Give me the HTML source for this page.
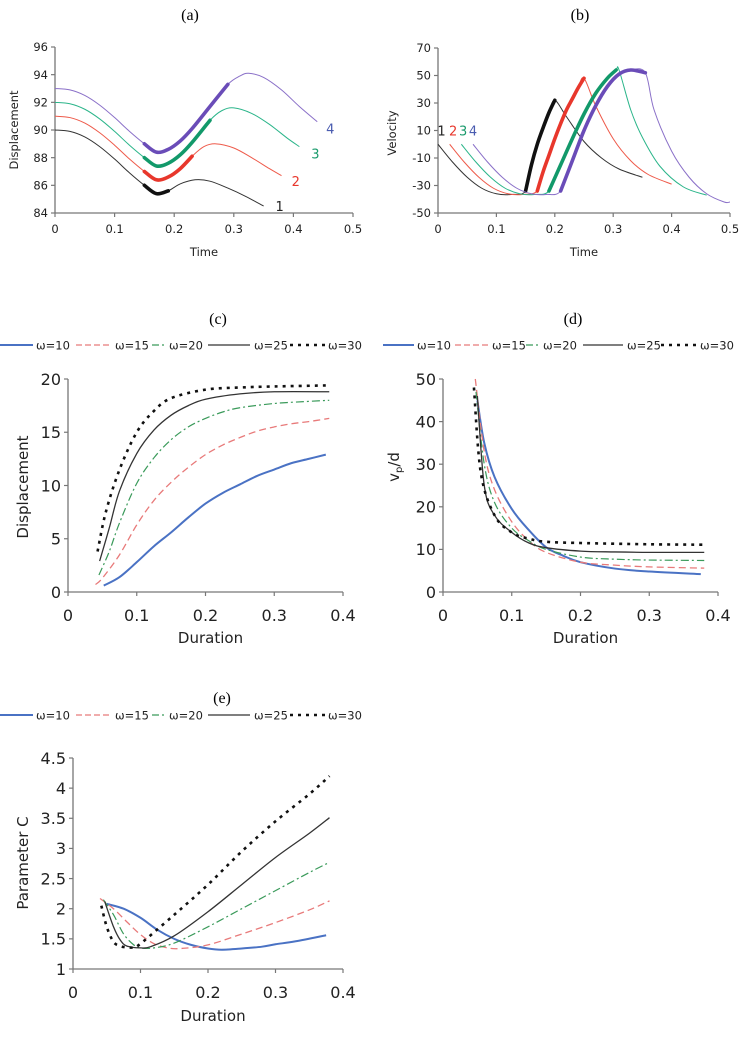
<!DOCTYPE html>
<html><head><meta charset="utf-8">
<style>
html,body{margin:0;padding:0;background:#fff;}
svg{display:block;font-family:"DejaVu Sans","Liberation Sans",sans-serif;}
.ttl{font-family:"Liberation Serif",serif;font-size:16px;}
</style></head>
<body>
<svg id="fig" width="749" height="1037" viewBox="0 0 749 1037" xmlns="http://www.w3.org/2000/svg">
<text class="ttl" x="190" y="20" text-anchor="middle">(a)</text>
<text class="ttl" x="580" y="20" text-anchor="middle">(b)</text>
<text class="ttl" x="218" y="324" text-anchor="middle">(c)</text>
<text class="ttl" x="573" y="324" text-anchor="middle">(d)</text>
<text class="ttl" x="222" y="703" text-anchor="middle">(e)</text>
</svg>
<script>
// ---- Panel (a) data ----
const aT1=[0,.025,.05,.075,.1,.125,.15,.17,.19,.21,.235,.26,.29,.32,.35];
const aY1=[90,89.9,89.5,88.8,87.9,86.9,86.0,85.4,85.6,86.1,86.4,86.3,85.8,85.2,84.5];
const aT2=[0,.025,.05,.075,.1,.125,.15,.17,.19,.21,.23,.25,.27,.3,.33,.36,.38];
const aY2=[91,90.9,90.5,89.8,88.9,87.9,87.0,86.4,86.6,87.2,88.1,88.8,89.0,88.7,88.0,87.2,86.7];
const aT3=[0,.025,.05,.075,.1,.125,.15,.17,.19,.21,.23,.26,.28,.3,.33,.36,.39,.41];
const aY3=[92,91.9,91.5,90.8,89.9,88.9,88.0,87.4,87.6,88.2,89.1,90.7,91.4,91.6,91.2,90.4,89.4,88.8];
const aT4=[0,.025,.05,.075,.1,.125,.15,.17,.19,.21,.23,.26,.29,.31,.325,.35,.38,.41,.44];
const aY4=[93,92.9,92.5,91.8,90.9,89.9,89.0,88.4,88.6,89.2,90.1,91.7,93.3,93.9,94.1,93.8,92.9,91.7,90.6];
const aThick=[[.15,.2],[.15,.23],[.15,.26],[.15,.29]];
const aXTicks=[0,0.1,0.2,0.3,0.4,0.5];
const aYTicks=[84,86,88,90,92,94,96];
const aLabels=["1","2","3","4"];
const aLabelT=[0.37,0.397,0.43,0.455];
const aLabelY=[84.5,86.3,88.3,90.1];
// ---- Panel (b) data ----
const bT1=[0,.025,.05,.075,.1,.125,.15,.16,.17,.18,.19,.2,.22,.25,.28,.31,.35];
const bV1=[0,-13,-24,-32,-36,-36.5,-34,-15,0,12,23,32,20,2,-10,-18,-24];
const bT2=[.02,.045,.07,.095,.12,.145,.17,.18,.19,.2,.21,.22,.23,.24,.25,.27,.3,.33,.36,.4];
const bV2=[0,-13,-24,-32,-36,-36.5,-34,-20,-8,4,15,25,33,41,48,28,4,-12,-22,-29];
const bT3=[.04,.065,.09,.115,.14,.165,.19,.21,.23,.25,.27,.29,.305,.31,.33,.35,.38,.42,.46];
const bV3=[0,-13,-24,-32,-36,-36.5,-34,-15,4,22,37,48,54,54,25,5,-16,-31,-37];
const bT4=[.06,.085,.11,.135,.16,.185,.21,.23,.25,.27,.29,.31,.33,.355,.37,.4,.43,.46,.49,.5];
const bV4=[0,-13,-24,-32,-36,-36.5,-34,-12,10,28,42,51,54,52,25,-5,-24,-36,-42,-42];
const bThick=[[.15,.2],[.17,.25],[.19,.305],[.21,.355]];
const bXTicks=[0,0.1,0.2,0.3,0.4,0.5];
const bYTicks=[-50,-30,-10,10,30,50,70];
const bLabelT=[0.006,0.026,0.043,0.06];
// ---- Panel (c) data ----
const cX10=[.052,.075,.1,.125,.15,.175,.2,.225,.25,.275,.3,.325,.35,.375];
const cY10=[0.6,1.4,2.8,4.3,5.6,7,8.3,9.3,10.1,10.9,11.5,12.1,12.5,12.9];
const cX15=[.04,.05,.075,.1,.125,.15,.175,.2,.225,.25,.275,.3,.325,.35,.38];
const cY15=[0.7,1.3,3.5,6.3,8.6,10.3,11.7,12.9,13.8,14.5,15.1,15.5,15.8,16.0,16.3];
const cX20=[.045,.06,.075,.1,.125,.15,.175,.2,.225,.25,.3,.35,.38];
const cY20=[1.6,3.8,6.5,10.2,12.6,14.3,15.5,16.3,16.9,17.3,17.7,17.9,18.0];
const cX25=[.046,.06,.075,.1,.125,.15,.175,.2,.25,.3,.38];
const cY25=[2.9,6,9.5,13.0,15.2,16.6,17.5,18.1,18.6,18.8,18.8];
const cX30=[.043,.055,.075,.1,.125,.15,.2,.25,.3,.38];
const cY30=[3.8,7.5,11.5,15.0,17.0,18.2,19.0,19.2,19.3,19.4];
const cYTicks=[0,5,10,15,20];
const durTicks=[0,0.1,0.2,0.3,0.4];
// ---- Panel (d) data ----
const dX10=[.05,.06,.075,.1,.125,.15,.175,.2,.25,.3,.375];
const dY10=[45,35,27,19.5,14.5,10.5,8.5,7,5.5,4.8,4.2];
const dX15=[.047,.06,.075,.1,.125,.15,.2,.25,.3,.38];
const dY15=[50,33,24,16.5,12,9.3,7,6.3,5.9,5.6];
const dX20=[.048,.06,.075,.1,.125,.15,.2,.25,.3,.38];
const dY20=[47,30,21,15,12,10,8.2,7.7,7.5,7.4];
const dX25=[.05,.06,.075,.1,.125,.15,.2,.25,.3,.38];
const dY25=[46,25,18,14,11.5,10.4,9.6,9.4,9.3,9.3];
const dX30=[.045,.055,.075,.1,.125,.15,.2,.3,.38];
const dY30=[48,28,18,14,12.5,11.8,11.5,11.2,11.1];
const dYTicks=[0,10,20,30,40,50];
// ---- Panel (e) data ----
const eX10=[.05,.075,.1,.125,.15,.175,.2,.22,.25,.28,.3,.33,.375];
const eY10=[2.08,2.0,1.85,1.65,1.5,1.4,1.34,1.32,1.34,1.37,1.41,1.46,1.56];
const eX15=[.04,.06,.08,.1,.12,.14,.16,.2,.25,.3,.35,.38];
const eY15=[2.17,2.0,1.78,1.57,1.42,1.35,1.34,1.4,1.58,1.77,1.98,2.13];
const eX20=[.045,.06,.075,.09,.1,.12,.15,.2,.25,.3,.35,.38];
const eY20=[2.15,1.9,1.58,1.4,1.35,1.35,1.43,1.7,2.0,2.3,2.6,2.77];
const eX25=[.047,.06,.07,.08,.1,.115,.15,.2,.25,.3,.35,.38];
const eY25=[2.12,1.7,1.48,1.38,1.35,1.37,1.55,1.95,2.4,2.85,3.25,3.51];
const eX30=[.042,.05,.06,.07,.08,.09,.1,.15,.2,.25,.3,.35,.38];
const eY30=[2.05,1.7,1.45,1.38,1.36,1.36,1.42,1.9,2.4,2.95,3.45,3.9,4.2];
const eYTicks=[1,1.5,2,2.5,3,3.5,4,4.5];
const omegaNames=["ω=10","ω=15","ω=20","ω=25","ω=30"];

const NS="http://www.w3.org/2000/svg";
const fig=document.getElementById('fig');
function mk(tag,attrs,parent){const e=document.createElementNS(NS,tag);for(const k in attrs)e.setAttribute(k,attrs[k]);(parent||fig).appendChild(e);return e;}
function scale(d0,d1,r0,r1){return v=>r0+(v-d0)/(d1-d0)*(r1-r0);}
function smoothPath(pts){
  if(pts.length<2)return "";
  let d="M"+pts[0][0].toFixed(2)+","+pts[0][1].toFixed(2);
  for(let i=0;i<pts.length-1;i++){
    const p0=pts[i-1]||pts[i],p1=pts[i],p2=pts[i+1],p3=pts[i+2]||p2;
    const c1=[p1[0]+(p2[0]-p0[0])/6,p1[1]+(p2[1]-p0[1])/6];
    const c2=[p2[0]-(p3[0]-p1[0])/6,p2[1]-(p3[1]-p1[1])/6];
    d+="C"+c1[0].toFixed(2)+","+c1[1].toFixed(2)+" "+c2[0].toFixed(2)+","+c2[1].toFixed(2)+" "+p2[0].toFixed(2)+","+p2[1].toFixed(2);
  }
  return d;
}
function axes(g,sx,sy,xt,yt,x0,y0,xl,yl,fs,xfmt,yfmt,labOff){
  const xa=mk('line',{x1:sx(xt[0]),x2:sx(xt[xt.length-1]),y1:y0,y2:y0,stroke:'#777','stroke-width':1.3},g);
  
  
  const ya=mk('line',{x1:x0,x2:x0,y1:sy(yt[0]),y2:sy(yt[yt.length-1]),stroke:'#777','stroke-width':1.3},g);
  
  
  xt.forEach(v=>{
    mk('line',{x1:sx(v),x2:sx(v),y1:y0,y2:y0+4,stroke:'#777','stroke-width':1.2},g);
    const t=mk('text',{x:sx(v),y:y0+labOff,'font-size':fs,'text-anchor':'middle',fill:'#222'},g);
    t.textContent=xfmt(v);
    
    
  });
  yt.forEach(v=>{
    mk('line',{x1:x0-4,x2:x0,y1:sy(v),y2:sy(v),stroke:'#777','stroke-width':1.2},g);
    const t=mk('text',{x:x0-7,y:sy(v)+fs*0.36,'font-size':fs,'text-anchor':'end',fill:'#222'},g);
    t.textContent=yfmt(v);
    
    
  });
}
function series(g,sx,sy,xs,ys,style,name){
  const pts=xs.map((x,i)=>[sx(x),sy(ys[i])]);
  const p=mk('path',Object.assign({d:smoothPath(pts),fill:'none'},style),g);
  
  
  return p;
}
function subRange(xs,ys,a,b){
  const ox=[],oy=[];
  xs.forEach((x,i)=>{if(x>=a-1e-9&&x<=b+1e-9){ox.push(x);oy.push(ys[i]);}});
  return [ox,oy];
}
function legend(g,x0,y,offs){
  const styles=[
    {stroke:'#4a72c4','stroke-width':2},
    {stroke:'#e87a7a','stroke-width':1.3,'stroke-dasharray':'6,3'},
    {stroke:'#3a9a5a','stroke-width':1.3,'stroke-dasharray':'7,3,2,3'},
    {stroke:'#333','stroke-width':1.3},
    {stroke:'#111','stroke-width':2.6,'stroke-dasharray':'3,5'}
  ];
  omegaNames.forEach((n,i)=>{
    const o=offs[i];
    const ln=mk('line',Object.assign({x1:x0+o[0],x2:x0+o[1],y1:y,y2:y},styles[i]),g);
    
    
    const t=mk('text',{x:x0+o[2],y:y+4.5,'font-size':11.5,fill:'#222'},g);
    t.textContent=n;
    
    
  });
}
const wStyles=[
  {stroke:'#4a72c4','stroke-width':2},
  {stroke:'#e87a7a','stroke-width':1.3,'stroke-dasharray':'7,4'},
  {stroke:'#3a9a5a','stroke-width':1.2,'stroke-dasharray':'8,3,2,3'},
  {stroke:'#333','stroke-width':1.3},
  {stroke:'#111','stroke-width':2.6,'stroke-dasharray':'3,5'}
];
function ytitle(g,x,y,txt,fs,name){
  const t=mk('text',{x:x,y:y,'font-size':fs,'text-anchor':'middle',transform:`rotate(-90 ${x} ${y})`,fill:'#222'},g);
  t.textContent=txt;
  
  
  return t;
}
function xtitle(g,x,y,txt,fs){
  const t=mk('text',{x:x,y:y,'font-size':fs,'text-anchor':'middle',fill:'#222'},g);
  t.textContent=txt;
  
  
}

// ---------- Panel (a) ----------
(function(){
  const g=mk('g',{});
  
  
  const sx=scale(0,0.5,55,353), sy=scale(84,96,213,47);
  axes(g,sx,sy,aXTicks,aYTicks,55,213,0,0,11.5,v=>String(v),v=>String(v),20);
  ytitle(g,18,130,'Displacement',11.5,'y-axis-title');
  xtitle(g,204,256,'Time',11.5);
  const T=[aT1,aT2,aT3,aT4],Y=[aY1,aY2,aY3,aY4];
  const thin=['#333','#ee5a4a','#2bb58a','#8a70c8'],thick=['#111','#e8372c','#12996a','#6a4cb8'];
  const labCol=['#222','#e8372c','#1a9a6c','#4a5cb0'];
  for(let i=0;i<4;i++){
    series(g,sx,sy,T[i],Y[i],{stroke:thin[i],'stroke-width':1},'curve-'+(i+1));
    const r=subRange(T[i],Y[i],aThick[i][0],aThick[i][1]);
    series(g,sx,sy,r[0],r[1],{stroke:thick[i],'stroke-width':3.6,'stroke-linecap':'round'},'curve-'+(i+1)+'-thick');
    const t=mk('text',{x:sx(aLabelT[i]),y:sy(aLabelY[i])+5,'font-size':13,fill:labCol[i]},g);
    t.textContent=aLabels[i];
    
    
  }
})();
// ---------- Panel (b) ----------
(function(){
  const g=mk('g',{});
  
  
  const sx=scale(0,0.5,438,730), sy=scale(-50,70,213,48);
  axes(g,sx,sy,bXTicks,bYTicks,438,213,0,0,11.5,v=>String(v),v=>String(v),20);
  ytitle(g,396,133,'Velocity',11.5,'y-axis-title');
  xtitle(g,584,256,'Time',11.5);
  const T=[bT1,bT2,bT3,bT4],V=[bV1,bV2,bV3,bV4];
  const thin=['#333','#ee5a4a','#2bb58a','#8a70c8'],thick=['#111','#e8372c','#12996a','#6a4cb8'];
  const labCol=['#222','#e8372c','#1a9a6c','#4a5cb0'];
  for(let i=0;i<4;i++){
    series(g,sx,sy,T[i],V[i],{stroke:thin[i],'stroke-width':1},'velocity-curve-'+(i+1));
    const r=subRange(T[i],V[i],bThick[i][0],bThick[i][1]);
    series(g,sx,sy,r[0],r[1],{stroke:thick[i],'stroke-width':3.6,'stroke-linecap':'round'},'velocity-curve-'+(i+1)+'-thick');
    const t=mk('text',{x:sx(bLabelT[i]),y:sy(10)+5,'font-size':13,fill:labCol[i],'text-anchor':'middle'},g);
    t.textContent=aLabels[i];
    
    
  }
})();
// ---------- Panels (c),(d),(e) ----------
function omegaPanel(name,xa,xb,ya,yb,ymin,ymax,yt,Xs,Ys,yfmt,legX,legY,offs,labY,titY){
  const g=mk('g',{});
  
  
  const sx=scale(0,0.4,xa,xb), sy=scale(ymin,ymax,ya,yb);
  axes(g,sx,sy,durTicks,yt,xa,ya,0,0,16,v=>String(v),yfmt,labY);
  xtitle(g,(xa+xb)/2+5,titY,'Duration',15);
  legend(g,legX,legY,offs);
  for(let i=0;i<5;i++) series(g,sx,sy,Xs[i],Ys[i],wStyles[i],'series-'+omegaNames[i].replace('ω=','w'));
  return g;
}
const offsC=[[0,33,36],[76,112,115],[152,167,169],[208,250,254],[290,325,328]];
const offsD=[[0,31,34],[72,106,109],[143,158,160],[200,240,244],[278,314,317]];
omegaPanel('chart-c-displacement',68,343,592,379,0,20,cYTicks,[cX10,cX15,cX20,cX25,cX30],[cY10,cY15,cY20,cY25,cY30],v=>String(v),0,345,offsC,29,643);
ytitle(fig,28,487,'Displacement',15,'y-axis-title-c');
omegaPanel('chart-d-vpd',443,718,592,379,0,50,dYTicks,[dX10,dX15,dX20,dX25,dX30],[dY10,dY15,dY20,dY25,dY30],v=>String(v),383,345,offsD,29,643);
(function(){
  const x=399,y=467;
  const t=mk('text',{x:x,y:y,'font-size':15,'text-anchor':'middle',transform:`rotate(-90 ${x} ${y})`,fill:'#222'});
  
  
  const s1=mk('tspan',{},t);s1.textContent='v';
  const s2=mk('tspan',{'font-size':10,dy:3},t);s2.textContent='p';
  const s3=mk('tspan',{dy:-3},t);s3.textContent='/d';
})();
omegaPanel('chart-e-parameter-c',73,343,969,758,1,4.5,eYTicks,[eX10,eX15,eX20,eX25,eX30],[eY10,eY15,eY20,eY25,eY30],v=>String(v),0,715,offsC,29,1021);
ytitle(fig,28,863,'Parameter C',15,'y-axis-title-e');
</script>
</body></html>
